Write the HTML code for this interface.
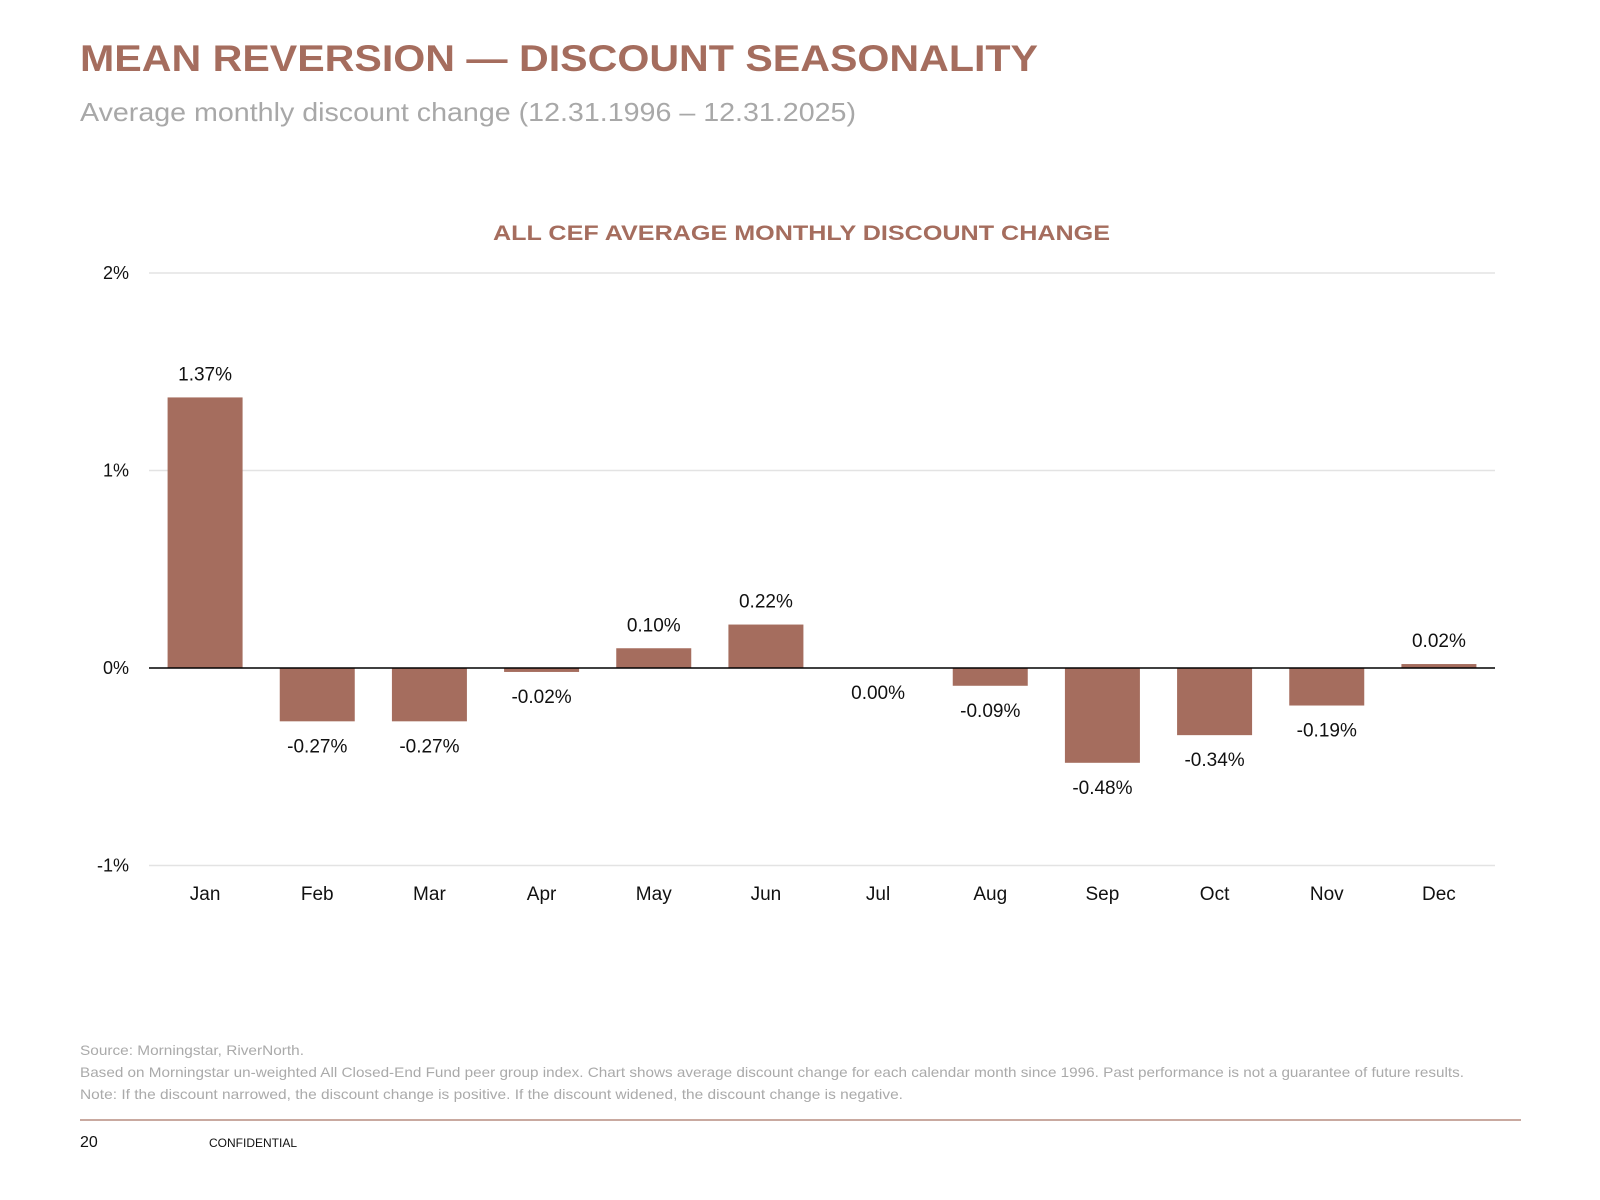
<!DOCTYPE html>
<html><head><meta charset="utf-8"><style>
html,body{margin:0;padding:0;background:#fff;}
svg{display:block;font-family:"Liberation Sans",sans-serif;}
</style></head><body>
<svg id="chart" width="1600" height="1200" viewBox="0 0 1600 1200">
<text x="80" y="71" font-size="37" font-weight="bold" fill="#a56d5e" textLength="958" lengthAdjust="spacingAndGlyphs">MEAN REVERSION — DISCOUNT SEASONALITY</text>
<text x="80" y="121" font-size="26" fill="#a8a8a8" textLength="776" lengthAdjust="spacingAndGlyphs">Average monthly discount change (12.31.1996 – 12.31.2025)</text>
<text x="493" y="240" font-size="21" font-weight="bold" fill="#a56d5e" textLength="617" lengthAdjust="spacingAndGlyphs">ALL CEF AVERAGE MONTHLY DISCOUNT CHANGE</text>
<g id="grid"></g><g id="bars"></g><g id="labels"></g>
<text x="80" y="1055" font-size="14" fill="#aaa" textLength="224" lengthAdjust="spacingAndGlyphs">Source: Morningstar, RiverNorth.</text>
<text x="80" y="1077" font-size="14" fill="#aaa" textLength="1384" lengthAdjust="spacingAndGlyphs">Based on Morningstar un-weighted All Closed-End Fund peer group index. Chart shows average discount change for each calendar month since 1996. Past performance is not a guarantee of future results.</text>
<text x="80" y="1099" font-size="14" fill="#aaa" textLength="823" lengthAdjust="spacingAndGlyphs">Note: If the discount narrowed, the discount change is positive. If the discount widened, the discount change is negative.</text>
<line x1="80" y1="1120" x2="1521" y2="1120" stroke="#c9a9a0" stroke-width="2"/>
<text x="80" y="1147" font-size="16" fill="#111">20</text>
<text x="209" y="1147" font-size="12" fill="#111" textLength="88" lengthAdjust="spacingAndGlyphs">CONFIDENTIAL</text>
</svg>
<script>
const months = ["Jan","Feb","Mar","Apr","May","Jun","Jul","Aug","Sep","Oct","Nov","Dec"];
const values = [1.37,-0.27,-0.27,-0.02,0.10,0.22,0.00,-0.09,-0.48,-0.34,-0.19,0.02];
const yTicks = [2,1,0,-1];
const yTickLabels = ["2%","1%","0%","-1%"];

const NS = "http://www.w3.org/2000/svg";
const X0 = 149, X1 = 1495, Y0 = 668, PX = 197.5;
const band = (X1 - X0) / months.length;
const xC = i => X0 + band * (i + 0.5);
const y = v => Y0 - v * PX;
function mk(tag, attrs, parent) {
  const e = document.createElementNS(NS, tag);
  for (const k in attrs) e.setAttribute(k, attrs[k]);
  parent.appendChild(e);
  return e;
}
const grid = document.getElementById("grid");
const bars = document.getElementById("bars");
const labels = document.getElementById("labels");
yTicks.forEach((t, i) => {
  if (t !== 0) {
    const g = mk("line", {x1: X0, x2: X1, y1: y(t), y2: y(t), stroke: "#e3e3e3", "stroke-width": 1.5}, grid);
    
    
  }
  const tx = mk("text", {x: 129, y: y(t) + 6, "font-size": 18, fill: "#111", "text-anchor": "end"}, labels);
  tx.textContent = yTickLabels[i];
  
  
});
const bw = 75;
values.forEach((v, i) => {
  const top = Math.min(y(v), Y0), h = Math.abs(y(v) - Y0);
  const r = mk("rect", {x: xC(i) - bw / 2, y: top, width: bw, height: h, fill: "#a56d5e"}, bars);
  
  
  const ly = v > 0 ? y(v) - 24 : Math.max(y(v), Y0) + 24;
  const t = mk("text", {x: xC(i), y: ly + 7, "font-size": 19, fill: "#111", "text-anchor": "middle"}, labels);
  t.textContent = v.toFixed(2) + "%";
  
  
  const m = mk("text", {x: xC(i), y: 900, "font-size": 19, fill: "#111", "text-anchor": "middle"}, labels);
  m.textContent = months[i];
  
  
});
const zl = mk("line", {x1: X0, x2: X1, y1: Y0, y2: Y0, stroke: "#000", "stroke-width": 1.5}, bars);


</script>
</body></html>
